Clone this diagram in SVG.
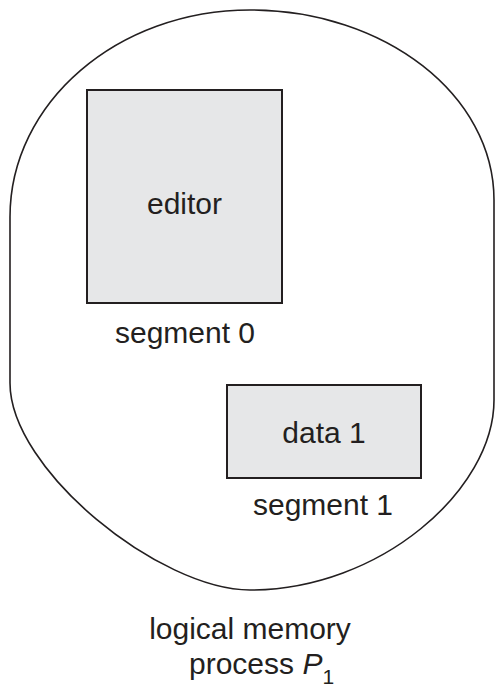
<svg xmlns="http://www.w3.org/2000/svg" width="495" height="690" viewBox="0 0 495 690">
<style>
.outline{fill:none;stroke:#231f20;stroke-width:1.6}
.seg{fill:#e6e7e8;stroke:#231f20;stroke-width:2}
.t{font-family:"Liberation Sans",Arial,sans-serif;font-size:30px;fill:#231f20}
.c{text-anchor:middle}
</style>
<rect width="495" height="690" fill="#ffffff"/>
<g id="process">
<path class="outline" d="M10,383 L10,217 C10,102.7 117.5,10 250,10 C384.7,10 494,95 494,200 L494,400 C494,490 380,590 250,590 C160,590 10,470 10,383 Z"/>
</g>
<g id="segment0">
<rect class="seg" x="87" y="90" width="195" height="213"/>
<text class="t c" x="184.5" y="214">editor</text>
<text class="t c" x="185" y="343">segment 0</text>
</g>
<g id="segment1">
<rect class="seg" x="227" y="385" width="194" height="93"/>
<text class="t c" x="324" y="443">data 1</text>
<text class="t c" x="323" y="515">segment 1</text>
</g>
<g id="label">
<text class="t c" x="250" y="639">logical memory</text>
<text class="t" x="189" y="674">process <tspan font-style="italic">P</tspan><tspan font-size="21" dy="10">1</tspan></text>
</g>
<g id="connectors"></g>
</svg>
